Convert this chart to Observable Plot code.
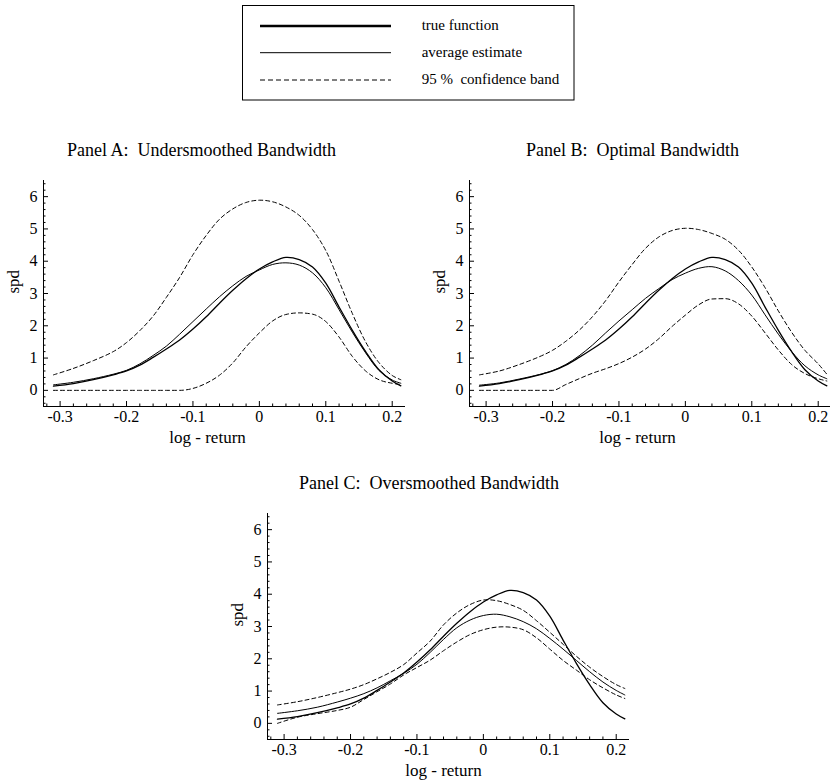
<!DOCTYPE html>
<html>
<head>
<meta charset="utf-8">
<script src="https://cdn.jsdelivr.net/npm/d3@7"></script>
<script src="https://cdn.jsdelivr.net/npm/@observablehq/plot@0.6"></script>
<style>
html, body { margin: 0; padding: 0; background: #fff; overflow: hidden; }
#page { position: relative; width: 830px; height: 782px; overflow: hidden; background: #fff;
        font-family: "Liberation Serif", "Times New Roman", serif; color: #000; }
.title { position: absolute; font-size: 18px; line-height: 18px; white-space: pre; transform: translateX(-50%); }
.panel { position: absolute; width: 414px; height: 281px; }
.panel svg { max-width: none !important; }
</style>
</head>
<body>
<div id="page"></div>
<script>
// ---- data ----
const xGrid = [-0.31, -0.28, -0.25, -0.22, -0.2, -0.18, -0.16, -0.14, -0.12, -0.1, -0.08, -0.06, -0.04, -0.02, 0, 0.02, 0.04, 0.06, 0.08, 0.1, 0.12, 0.14, 0.16, 0.18, 0.2, 0.213];

const trueFn = [0.13, 0.21, 0.33, 0.48, 0.60, 0.78, 1.02, 1.28, 1.56, 1.90, 2.28, 2.70, 3.10, 3.46, 3.76, 3.98, 4.12, 4.05, 3.82, 3.32, 2.58, 1.86, 1.20, 0.64, 0.29, 0.14];

const avgA   = [0.17, 0.25, 0.36, 0.50, 0.62, 0.82, 1.08, 1.37, 1.74, 2.13, 2.52, 2.90, 3.24, 3.53, 3.73, 3.90, 3.95, 3.88, 3.64, 3.18, 2.50, 1.80, 1.16, 0.62, 0.32, 0.22];
const upperA = [0.48, 0.68, 0.92, 1.20, 1.48, 1.85, 2.30, 2.88, 3.50, 4.20, 4.80, 5.30, 5.62, 5.82, 5.89, 5.84, 5.68, 5.42, 4.98, 4.33, 3.38, 2.38, 1.50, 0.86, 0.46, 0.33];
const lowerA = [0, 0, 0, 0, 0, 0, 0, 0, 0, 0.06, 0.22, 0.47, 0.85, 1.35, 1.78, 2.15, 2.35, 2.40, 2.36, 2.13, 1.65, 1.05, 0.60, 0.33, 0.22, 0.18];

const avgB   = [0.16, 0.23, 0.35, 0.49, 0.61, 0.80, 1.07, 1.40, 1.78, 2.15, 2.50, 2.85, 3.15, 3.43, 3.63, 3.78, 3.83, 3.70, 3.40, 2.95, 2.34, 1.74, 1.20, 0.76, 0.48, 0.36];
const upperB = [0.48, 0.60, 0.80, 1.04, 1.24, 1.52, 1.86, 2.28, 2.78, 3.36, 3.90, 4.40, 4.75, 4.95, 5.02, 4.98, 4.86, 4.68, 4.34, 3.82, 3.18, 2.46, 1.80, 1.24, 0.82, 0.50];
const lowerB = [0, 0, 0, 0, 0, 0.18, 0.36, 0.53, 0.67, 0.83, 1.03, 1.28, 1.60, 1.98, 2.33, 2.65, 2.83, 2.84, 2.68, 2.30, 1.78, 1.25, 0.80, 0.52, 0.36, 0.29];

const avgC   = [0.31, 0.39, 0.50, 0.66, 0.78, 0.92, 1.10, 1.32, 1.55, 1.83, 2.20, 2.60, 2.96, 3.20, 3.34, 3.38, 3.30, 3.15, 2.93, 2.63, 2.30, 1.95, 1.60, 1.28, 1.02, 0.88];
const upperC = [0.57, 0.67, 0.80, 0.95, 1.06, 1.20, 1.38, 1.58, 1.82, 2.18, 2.55, 3.05, 3.42, 3.68, 3.82, 3.80, 3.68, 3.50, 3.18, 2.82, 2.45, 2.08, 1.74, 1.45, 1.20, 1.08];
const lowerC = [0.00, 0.19, 0.30, 0.40, 0.50, 0.74, 0.98, 1.22, 1.50, 1.73, 1.96, 2.25, 2.52, 2.75, 2.90, 2.98, 2.98, 2.90, 2.65, 2.30, 1.95, 1.65, 1.35, 1.10, 0.88, 0.77];

const xTicks = [-0.3, -0.2, -0.1, 0, 0.1, 0.2];
const yTicks = [0, 1, 2, 3, 4, 5, 6];
const xDomain = [-0.325, 0.22];
const yDomain = [-0.5, 6.5];

const panelTitles = ["Panel A:  Undersmoothed Bandwidth", "Panel B:  Optimal Bandwidth", "Panel C:  Oversmoothed Bandwidth"];
const legendLabels = ["true function", "average estimate", "95 %  confidence band"];
const xAxisLabel = "log - return";
const yAxisLabel = "spd";

// minor ticks (axis decoration)
const xMinor = d3.range(-16, 11).map(i => i / 50).filter(v => Math.abs(v * 10 - Math.round(v * 10)) > 1e-6);
const yMinor = d3.range(-2, 33).map(i => i / 5).filter(v => Math.abs(v - Math.round(v)) > 1e-6);

const page = document.getElementById("page");

// ---- legend ----
const NS = "http://www.w3.org/2000/svg";
const leg = document.createElementNS(NS, "svg");
leg.setAttribute("width", 830); leg.setAttribute("height", 110);
leg.style.position = "absolute"; leg.style.left = "0px"; leg.style.top = "0px";
const legStyles = [
  {w: 2.3, dash: null},
  {w: 1, dash: null},
  {w: 1, dash: "5,3"}
];
const legRows = [26, 52.7, 80];
let html = `<rect x="242.5" y="5.5" width="331.5" height="94.5" fill="white" stroke="black" stroke-width="1"/>`;
legendLabels.forEach((lab, i) => {
  const s = legStyles[i];
  html += `<line x1="260" x2="391" y1="${legRows[i]}" y2="${legRows[i]}" stroke="black" stroke-width="${s.w}" ${s.dash ? `stroke-dasharray="${s.dash}"` : ""}/>`;
  html += `<text x="421.7" y="${legRows[i] + 4.3}" font-family="Liberation Serif, serif" font-size="15" style="white-space:pre">${lab}</text>`;
});
leg.innerHTML = html;
page.appendChild(leg);

// ---- titles ----
const titlePos = [[201.5, 141], [632.5, 141], [429, 474]];
panelTitles.forEach((t, i) => {
  const d = document.createElement("div");
  d.className = "title";
  d.textContent = t;
  d.style.left = titlePos[i][0] + "px";
  d.style.top = titlePos[i][1] + "px";
  page.appendChild(d);
});

// ---- panels ----
function rows(ys) { return xGrid.map((x, i) => ({x, y: ys[i]})); }

function panel(avg, upper, lower, labelX, lowerCurve) {
  const dashed = {x: "x", y: "y", stroke: "black", strokeWidth: 1, strokeDasharray: "4,3"};
  return Plot.plot({
    width: 414, height: 281,
    marginLeft: 42, marginRight: 10, marginTop: 10, marginBottom: 45,
    x: {domain: xDomain, label: null},
    y: {domain: yDomain, label: null},
    style: {fontFamily: "Liberation Serif, Times New Roman, serif", fontSize: "16px", background: "transparent", overflow: "visible", color: "black", maxWidth: "none"},
    marks: [
      Plot.ruleY([yDomain[0]], {stroke: "black", strokeWidth: 1}),
      Plot.ruleX([xDomain[0]], {stroke: "black", strokeWidth: 1}),
      Plot.axisX(xMinor, {tickSize: -2.5, fill: "none", label: null}),
      Plot.axisX(xTicks, {tickSize: -5, fill: "none", label: null}),
      Plot.axisX(xTicks, {tickSize: 0, tickPadding: 4, tickFormat: d => String(d), label: null, fontSize: 16}),
      Plot.axisY(yMinor, {tickSize: -2.5, fill: "none", label: null}),
      Plot.axisY(yTicks, {tickSize: -5, fill: "none", label: null}),
      Plot.axisY(yTicks, {tickSize: 0, tickPadding: 6, tickFormat: d => String(d), label: null, fontSize: 16}),
      Plot.line(rows(upper), {...dashed, curve: "catmull-rom"}),
      Plot.line(rows(lower), {...dashed, curve: lowerCurve}),
      Plot.line(rows(avg), {x: "x", y: "y", curve: "catmull-rom", stroke: "black", strokeWidth: 1}),
      Plot.line(rows(trueFn), {x: "x", y: "y", curve: "catmull-rom", stroke: "black", strokeWidth: 1.3}),
      Plot.text([yAxisLabel], {frameAnchor: "left", rotate: -90, dx: -30, fontSize: 17}),
      Plot.text([labelX], {x: d => d, frameAnchor: "bottom", dy: 36, text: () => xAxisLabel, fontSize: 17})
    ]
  });
}

const panels = [
  {avg: avgA, upper: upperA, lower: lowerA, lx: -0.078, left: 1, top: 170, lc: "monotone-x"},
  {avg: avgB, upper: upperB, lower: lowerB, lx: -0.072, left: 427, top: 170, lc: "monotone-x"},
  {avg: avgC, upper: upperC, lower: lowerC, lx: -0.06, left: 224.7, top: 503.3, lc: "catmull-rom"}
];
panels.forEach(p => {
  const d = document.createElement("div");
  d.className = "panel";
  d.style.left = p.left + "px";
  d.style.top = p.top + "px";
  d.appendChild(panel(p.avg, p.upper, p.lower, p.lx, p.lc));
  page.appendChild(d);
});
</script>
</body>
</html>
